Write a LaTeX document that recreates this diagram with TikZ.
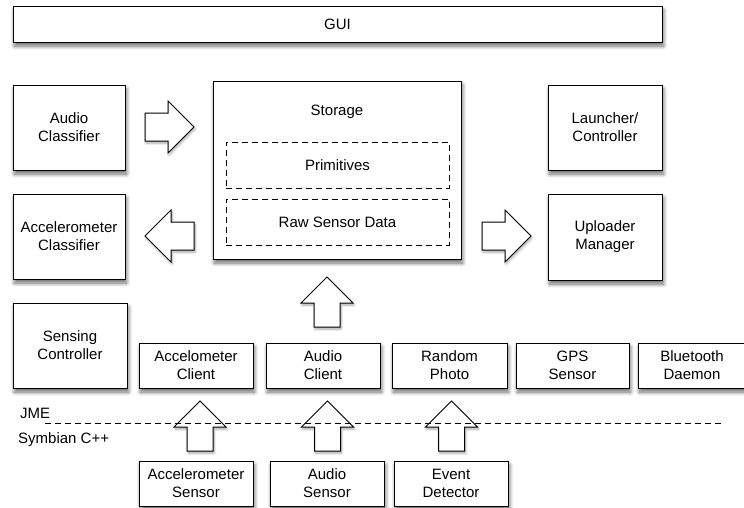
\documentclass[tikz,border=0pt]{standalone}
\usepackage{fontspec}
\setmainfont{Liberation Sans}
\usetikzlibrary{shadows.blur}
\tikzset{
  shad/.style={blur shadow={shadow xshift=1.5pt, shadow yshift=-4pt, shadow blur radius=4pt, shadow opacity=60, shadow blur steps=8}},
  box/.style={draw=black, line width=1pt, fill=white, inner sep=0pt, align=center, shad,
    font=\fontsize{15}{18}\selectfont},
  dbox/.style={draw=black, line width=0.9pt, dash pattern=on 6pt off 4pt, inner sep=0pt, align=center,
    font=\fontsize{15}{18}\selectfont},
  lbl/.style={inner sep=0pt, font=\fontsize{15}{18}\selectfont},
  barrow/.style={draw=black, line width=1pt, fill=white, line join=miter,
    blur shadow={shadow xshift=1pt, shadow yshift=-2pt, shadow blur radius=2.5pt, shadow opacity=35, shadow blur steps=6}},
  pics/arrR/.style={code={\path[barrow] (-49,-14) -- (-26,-14) -- (-26,-26) -- (0,0) -- (-26,26) -- (-26,14) -- (-49,14) -- cycle;}},
  pics/arrL/.style={code={\path[barrow] (49,-14) -- (26,-14) -- (26,-26) -- (0,0) -- (26,26) -- (26,14) -- (49,14) -- cycle;}},
  pics/arrU/.style={code={\path[barrow] (-13,50) -- (-13,26) -- (-26,26) -- (0,0) -- (26,26) -- (13,26) -- (13,50) -- cycle;}},
}
\begin{document}
\begin{tikzpicture}[x=1pt, y=-1pt]
\useasboundingbox (0,0) rectangle (744,507);
% GUI
\node[box, minimum width=649, minimum height=36] (gui) at (337.5,24) {GUI};
% left column
\node[box, minimum width=112, minimum height=85] (aclass) at (69,127.5) {Audio\\Classifier};
\node[box, minimum width=112, minimum height=85] (accclass) at (69,236.5) {Accelerometer\\Classifier};
\node[box, minimum width=114, minimum height=85] (sensctl) at (70,345.5) {Sensing\\Controller};
% storage
\node[box, minimum width=248, minimum height=178] (storage) at (337,170) {};
\node[lbl] (storlbl) at (337,112) {Storage};
\node[dbox, minimum width=223, minimum height=46] (prim) at (337.5,165) {Primitives};
\node[dbox, minimum width=223, minimum height=46] (raw) at (337.5,222) {Raw Sensor Data};
% right column
\node[box, minimum width=114, minimum height=85] (launch) at (605,127.5) {Launcher/\\Controller};
\node[box, minimum width=114, minimum height=86] (upl) at (605,237) {Uploader\\Manager};
% clients
\node[box, minimum width=114, minimum height=45] (accclient) at (196,365.5) {Accelometer\\Client};
\node[box, minimum width=114, minimum height=45] (audclient) at (323,365.5) {Audio\\Client};
\node[box, minimum width=115, minimum height=45] (rphoto) at (449.5,365.5) {Random\\Photo};
\node[box, minimum width=113, minimum height=45] (gps) at (572.5,365.5) {GPS\\Sensor};
\node[box, minimum width=108, minimum height=45] (bt) at (692,365.5) {Bluetooth\\Daemon};
% sensors
\node[box, minimum width=114, minimum height=45] (accsens) at (196,483.5) {Accelerometer\\Sensor};
\node[box, minimum width=114, minimum height=45] (audsens) at (327,483.5) {Audio\\Sensor};
\node[box, minimum width=114, minimum height=45] (evdet) at (451,483.5) {Event\\Detector};
% block arrows
\pic at (194,127) {arrR};
\pic at (145,236) {arrL};
\pic at (531,236) {arrR};
\pic at (327,277) {arrU};
\pic at (200,401) {arrU};
\pic at (327.5,401) {arrU};
\pic at (451.5,401) {arrU};
% layer separator
\coordinate (sepL) at (45,423.5);
\coordinate (sepR) at (723,423.5);
\draw[line width=0.9pt, dash pattern=on 6pt off 4pt] (sepL) -- (sepR);
\node[lbl, anchor=west] (jme) at (20,413) {JME};
\node[lbl, anchor=west] (symb) at (18,440) {Symbian C++};
\end{tikzpicture}
\end{document}
